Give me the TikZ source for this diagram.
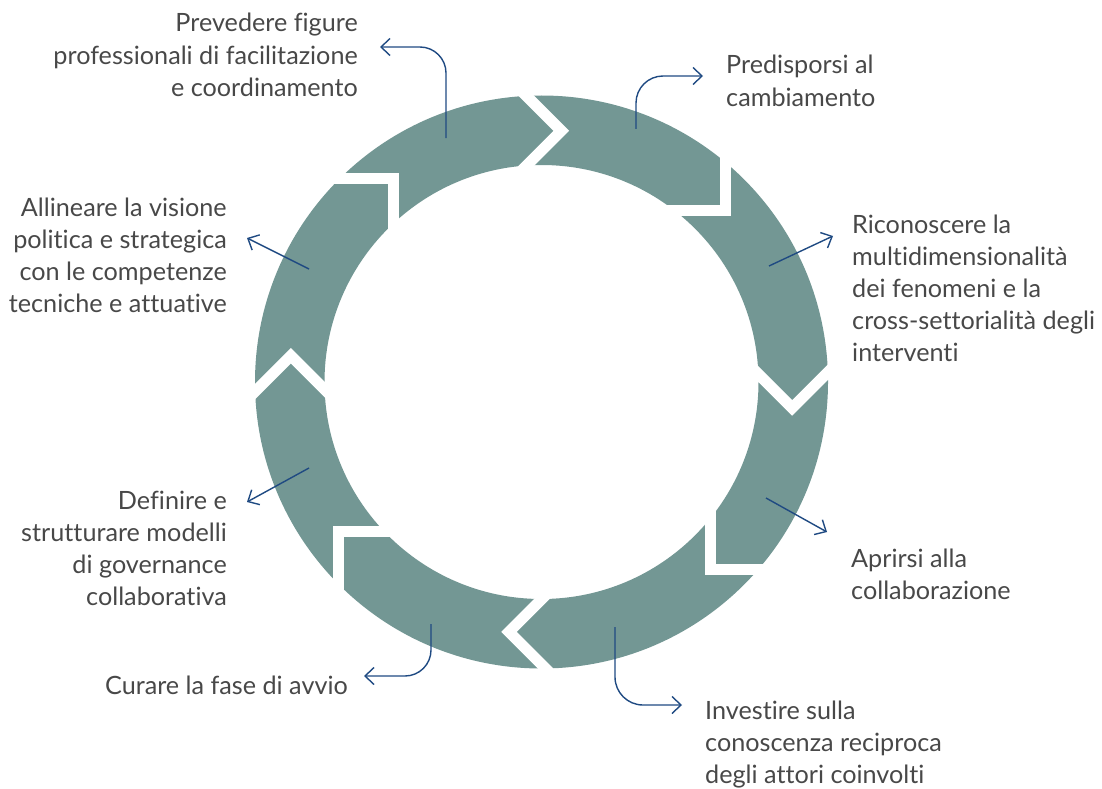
\documentclass[tikz,border=0pt]{standalone}
\usepackage{fontspec}
\newfontfamily\lato[Ligatures=NoCommon]{Lato}
\usetikzlibrary{calc,arrows.meta}
\definecolor{ringcol}{RGB}{115,151,148}
\definecolor{cblue}{RGB}{31,74,130}
\definecolor{txt}{RGB}{72,72,72}
\newcommand{\lblfont}{\lato\fontsize{25.2}{32.2}\selectfont}
\begin{document}
\begin{tikzpicture}[x=1pt,y=-1pt,
  gapband/.style={draw=white, line width=11pt, line join=miter, miter limit=10},
  lblR/.style={anchor=base east, inner sep=0pt, text=txt, font=\lblfont},
  lblL/.style={anchor=base west, inner sep=0pt, text=txt, font=\lblfont},
  conn/.style={draw=cblue, line width=1.4pt, -{Straight Barb[length=9pt,width=17pt]}}]
\useasboundingbox (0,0) rectangle (1102,789);
\coordinate (C) at (541.5,382);
% ring
\fill[ringcol, even odd rule] (C) circle[radius=286.5pt] (C) circle[radius=217pt];
% chevron gaps between the arrow segments (position angle / orientation angle)
\foreach \a/\o [count=\i] in {85.5/90,43.0/45,-5.9/0,-48.0/-45,-97.4/-90,-143.7/-135,174.0/180,126.1/135}{
  \coordinate (P\i) at ($(C)+(\a:252pt)$);
  \draw[gapband] ($(P\i)+({\o+45}:70pt)$) -- (P\i) -- ($(P\i)+({\o+135}:70pt)$);
}
% labels
\node[lblR] (t1) at (358,32) {\begin{tabular}[t]{@{}r@{}}Prevedere figure\\professionali di facilitazione\\e coordinamento\end{tabular}};
\node[lblL] (t2) at (726,74) {\begin{tabular}[t]{@{}l@{}}Predisporsi al\\cambiamento\end{tabular}};
\node[lblL] (t3) at (852,233) {\begin{tabular}[t]{@{}l@{}}Riconoscere la\\multidimensionalità\\dei fenomeni e la\\cross-settorialità degli\\interventi\end{tabular}};
\node[lblL] (t4) at (851,567) {\begin{tabular}[t]{@{}l@{}}Aprirsi alla\\collaborazione\end{tabular}};
\node[lblL] (t5) at (705,719) {\begin{tabular}[t]{@{}l@{}}Investire sulla\\conoscenza reciproca\\degli attori coinvolti\end{tabular}};
\node[lblR] (t6) at (348,694) {Curare la fase di avvio};
\node[lblR] (t7) at (227,509) {\begin{tabular}[t]{@{}r@{}}Definire e\\strutturare modelli\\di governance\\collaborativa\end{tabular}};
\node[lblR] (t8) at (227,216) {\begin{tabular}[t]{@{}r@{}}Allineare la visione\\politica e strategica\\con le competenze\\tecniche e attuative\end{tabular}};
% connectors
\coordinate (a1s) at (446,138); \coordinate (a1e) at (380,47);
\coordinate (a2s) at (636,129); \coordinate (a2e) at (703,76);
\coordinate (a3s) at (769,266); \coordinate (a3e) at (833,236);
\coordinate (a4s) at (766,498); \coordinate (a4e) at (827,532);
\coordinate (a5s) at (615,627); \coordinate (a5e) at (682,705);
\coordinate (a6s) at (431,624); \coordinate (a6e) at (364,676);
\coordinate (a7s) at (309,468); \coordinate (a7e) at (247,502);
\coordinate (a8s) at (309,269); \coordinate (a8e) at (247,238);
\draw[conn, rounded corners=26pt] (a1s) |- (a1e);
\draw[conn, rounded corners=27pt] (a2s) |- (a2e);
\draw[conn] (a3s) -- (a3e);
\draw[conn] (a4s) -- (a4e);
\draw[conn, rounded corners=28pt] (a5s) |- (a5e);
\draw[conn, rounded corners=26pt] (a6s) |- (a6e);
\draw[conn] (a7s) -- (a7e);
\draw[conn] (a8s) -- (a8e);
\end{tikzpicture}
\end{document}
